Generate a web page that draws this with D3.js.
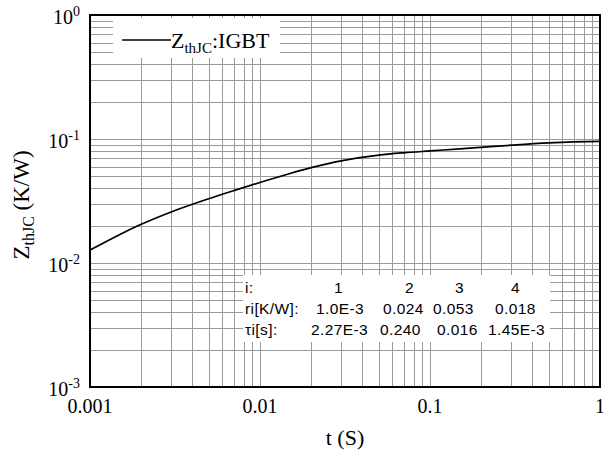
<!DOCTYPE html>
<html>
<head>
<meta charset="utf-8">
<script src="https://cdn.jsdelivr.net/npm/d3@7/dist/d3.min.js"></script>
<style>
  html, body { margin: 0; padding: 0; background: #fff; }
  svg { display: block; }
</style>
</head>
<body>
<svg id="chart" width="603" height="454"></svg>
<script>
// Transient thermal impedance Zth(j-c) of the IGBT, sampled along the curve
const timeS = [0.001, 0.0015, 0.002, 0.003, 0.005, 0.007, 0.01, 0.015, 0.02, 0.03,
               0.05, 0.07, 0.1, 0.15, 0.2, 0.3, 0.5, 0.7, 1];
const zthKW = [0.0127, 0.0170, 0.0205, 0.0258, 0.0330, 0.0383, 0.0446, 0.0527, 0.0587, 0.0667,
               0.0742, 0.0774, 0.0801, 0.0832, 0.0856, 0.0891, 0.0930, 0.0947, 0.0958];

// Foster network parameters listed in the table
const tableIndex = ["1", "2", "3", "4"];
const tableR = ["1.0E-3", "0.024", "0.053", "0.018"];
const tableTau = ["2.27E-3", "0.240", "0.016", "1.45E-3"];

const xTickValues = [0.001, 0.01, 0.1, 1];
const xTickLabels = ["0.001", "0.01", "0.1", "1"];
const yTickValues = [1e-3, 1e-2, 1e-1, 1];
const yTickExponents = ["-3", "-2", "-1", "0"];

const svg = d3.select("#chart");
const plot = { left: 90, right: 600, top: 15, bottom: 387 };

const x = d3.scaleLog().domain([0.001, 1]).range([plot.left, plot.right]);
const y = d3.scaleLog().domain([0.001, 1]).range([plot.bottom, plot.top]);

const serif = "Liberation Serif, Tinos, Times New Roman, serif";
const sans = "Liberation Sans, Arial, sans-serif";

// Grid: every 1..9 multiple within each decade
function decadeTicks(domain) {
  const out = [];
  for (let e = Math.log10(domain[0]); e < Math.log10(domain[1]); e++) {
    for (let m = 1; m <= 9; m++) out.push(m * Math.pow(10, e));
  }
  out.push(domain[1]);
  return out;
}

const grid = svg.append("g").attr("stroke", "#9a9a9a").attr("stroke-width", 1);
grid.selectAll("line.v").data(decadeTicks(x.domain())).join("line")
  .attr("class", "v")
  .attr("x1", d => Math.round(x(d)) + 0.5).attr("x2", d => Math.round(x(d)) + 0.5)
  .attr("y1", plot.top).attr("y2", plot.bottom);
grid.selectAll("line.h").data(decadeTicks(y.domain())).join("line")
  .attr("class", "h")
  .attr("y1", d => Math.round(y(d)) + 0.5).attr("y2", d => Math.round(y(d)) + 0.5)
  .attr("x1", plot.left).attr("x2", plot.right);

// Legend panel (white, hides the grid beneath)
svg.append("rect").attr("x", 113).attr("y", 18).attr("width", 167).attr("height", 40)
  .attr("fill", "#fff");
svg.append("line").attr("x1", 122).attr("x2", 171).attr("y1", 40).attr("y2", 40)
  .attr("stroke", "#000").attr("stroke-width", 1.6);
const legText = svg.append("text").attr("x", 171).attr("y", 48)
  .style("font-family", serif).attr("font-size", 22).attr("fill", "#000");
legText.append("tspan").text("Z");
legText.append("tspan").attr("font-size", 15).attr("dy", 5).text("thJC");
legText.append("tspan").attr("dy", -5).text(":IGBT");

// Parameter table panel
svg.append("rect").attr("x", 243).attr("y", 275).attr("width", 307).attr("height", 67)
  .attr("fill", "#fff");
const table = svg.append("g").style("font-family", sans).attr("font-size", 15.5)
  .attr("letter-spacing", 0.4).attr("fill", "#000");
const rowY = [293, 314, 335];
const idxX = [334, 405, 455, 511];
const rX = [316, 383, 433, 495];
const tauX = [311, 380, 437, 488];
table.append("text").attr("x", 245).attr("y", rowY[0]).text("i:");
table.append("text").attr("x", 245).attr("y", rowY[1]).text("ri[K/W]:");
table.append("text").attr("x", 245).attr("y", rowY[2]).text("τi[s]:");
table.selectAll("text.idx").data(tableIndex).join("text").attr("class", "idx")
  .attr("x", (d, i) => idxX[i]).attr("y", rowY[0]).text(d => d);
table.selectAll("text.r").data(tableR).join("text").attr("class", "r")
  .attr("x", (d, i) => rX[i]).attr("y", rowY[1]).text(d => d);
table.selectAll("text.tau").data(tableTau).join("text").attr("class", "tau")
  .attr("x", (d, i) => tauX[i]).attr("y", rowY[2]).text(d => d);

// Zth curve
const points = timeS.map((t, i) => [t, zthKW[i]]);
const line = d3.line().x(d => x(d[0])).y(d => y(d[1])).curve(d3.curveMonotoneX);
svg.append("path").datum(points).attr("d", line)
  .attr("fill", "none").attr("stroke", "#000").attr("stroke-width", 1.7);

// Plot frame
svg.append("rect").attr("x", plot.left).attr("y", plot.top)
  .attr("width", plot.right - plot.left).attr("height", plot.bottom - plot.top)
  .attr("fill", "none").attr("stroke", "#000").attr("stroke-width", 2);

// X axis labels
svg.append("g").style("font-family", serif).attr("font-size", 20).attr("text-anchor", "middle")
  .selectAll("text").data(xTickValues).join("text")
  .attr("x", d => x(d)).attr("y", plot.bottom + 26)
  .text((d, i) => xTickLabels[i]);

// Y axis labels (powers of ten)
const yLab = svg.append("g").style("font-family", serif).attr("font-size", 20).attr("text-anchor", "end")
  .selectAll("text").data(yTickValues).join("text")
  .attr("x", 80).attr("y", d => y(d) + 8.5);
yLab.append("tspan").text("10");
yLab.append("tspan").attr("font-size", 14).attr("dy", -8).text((d, i) => yTickExponents[i]);

// Axis titles
svg.append("text").attr("x", 345).attr("y", 445).attr("text-anchor", "middle")
  .style("font-family", serif).attr("font-size", 22).text("t (S)");

const yt = svg.append("text").attr("transform", "translate(29,205) rotate(-90)")
  .attr("text-anchor", "middle").style("font-family", serif).attr("font-size", 23);
yt.append("tspan").text("Z");
yt.append("tspan").attr("font-size", 16).attr("dy", 5).text("thJC");
yt.append("tspan").attr("dy", -5).text(" (K/W)");
</script>
</body>
</html>
